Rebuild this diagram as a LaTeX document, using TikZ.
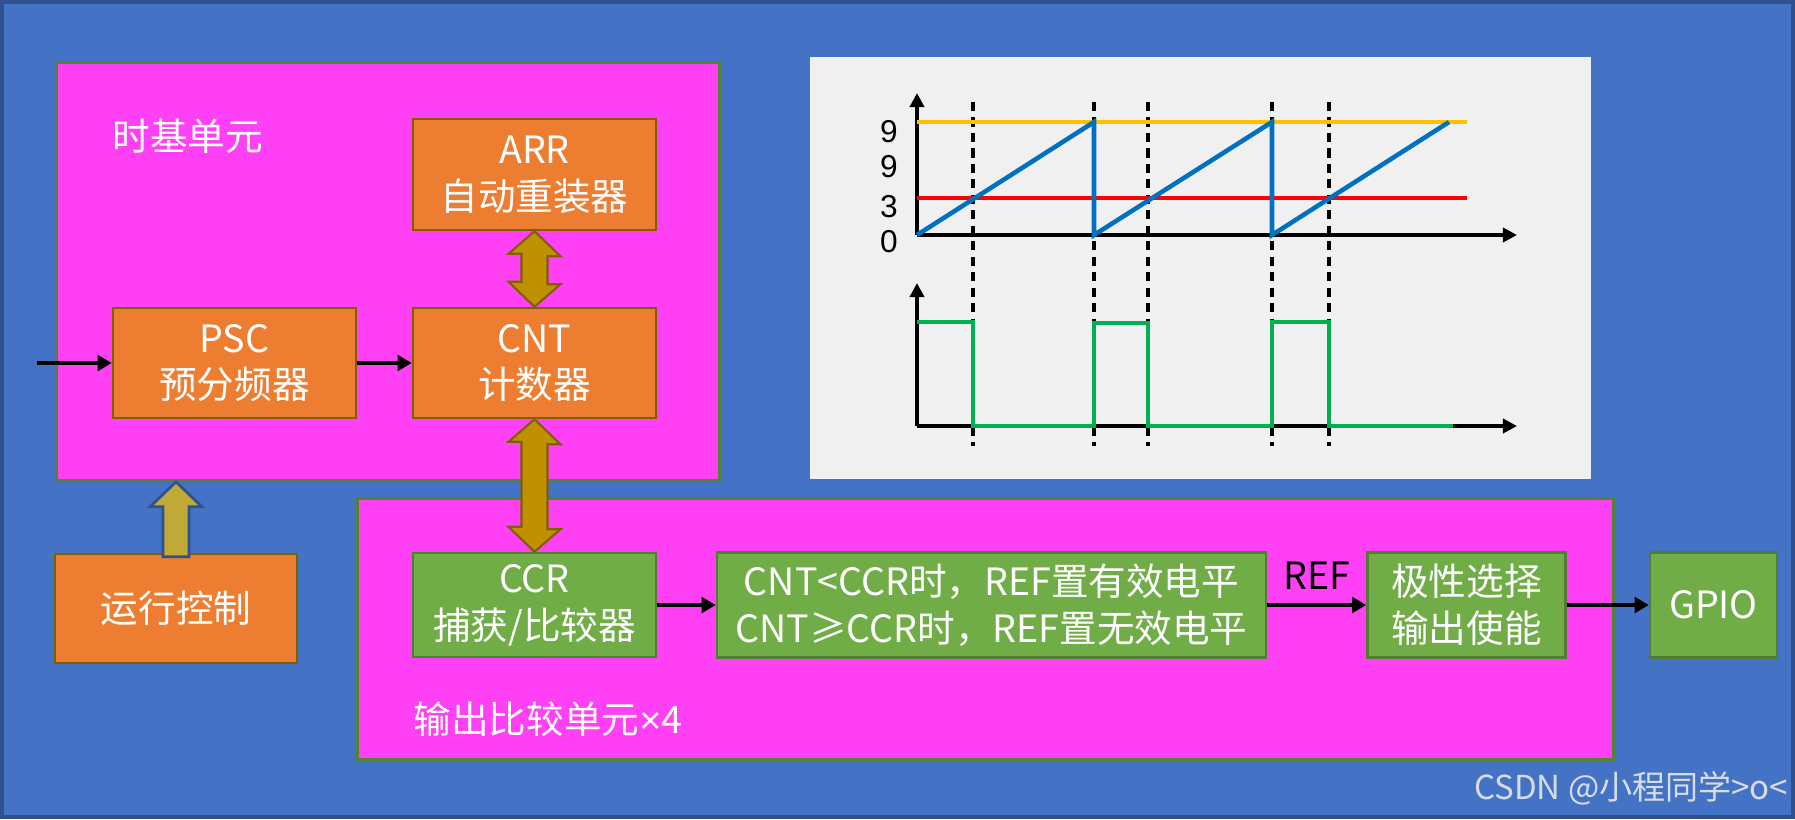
\documentclass[tikz,border=0pt]{standalone}
\usepackage{fontspec}
\setmainfont{Noto Sans CJK SC}
\newfontfamily\axisfont{Liberation Sans}
\usetikzlibrary{arrows.meta}

\definecolor{bgblue}{HTML}{4472C4}
\definecolor{bgedge}{HTML}{2F528F}
\definecolor{unitfill}{HTML}{FF40F5}
\definecolor{unitedge}{HTML}{548235}
\definecolor{orangefill}{HTML}{ED7D31}
\definecolor{orangeedge}{HTML}{7F6000}
\definecolor{greenfill}{HTML}{70AD47}
\definecolor{greenedge}{HTML}{507E32}
\definecolor{goldfill}{HTML}{BF9000}
\definecolor{goldedge}{HTML}{7F6000}
\definecolor{ctrlfill}{HTML}{C0AA37}
\definecolor{panelgray}{HTML}{F0F0F0}
\definecolor{arrline}{HTML}{FFC000}
\definecolor{ccrline}{HTML}{FF0000}
\definecolor{cntline}{HTML}{0070C0}
\definecolor{refline}{HTML}{00B050}
\definecolor{markgray}{HTML}{D6DCE5}

\newcommand\boxfont{\fontsize{10.7}{13.3}\selectfont}

\begin{document}
\begin{tikzpicture}[x=1cm,y=-1cm,
  unitbox/.style={draw=unitedge, line width=0.8pt, fill=unitfill, inner sep=0pt},
  orangebox/.style={draw=orangeedge, line width=0.7pt, fill=orangefill, text=white,
    font=\boxfont, align=center, inner sep=0pt, minimum width=2.43cm},
  greenbox/.style={draw=greenedge, line width=0.7pt, fill=greenfill, text=white,
    font=\boxfont, align=center, inner sep=0pt},
  sigarrow/.style={line width=1.2pt, -{Triangle[length=4pt,width=4.4pt]}},
  goldarrow/.style={draw=goldedge, line width=0.6pt, fill=goldfill, line join=miter},
  ctrlarrow/.style={draw=bgedge, line width=0.8pt, fill=ctrlfill, line join=miter},
  axisline/.style={line width=1.3pt, -{Triangle[length=4pt,width=4pt]}},
  wave/.style={line width=1.3pt},
  ticklabel/.style={font=\axisfont\fontsize{9}{10}\selectfont, inner sep=0pt}
]
\useasboundingbox (0,0) rectangle (17.95,8.19);
\draw[fill=bgblue, draw=bgedge, line width=1pt] (0.02,0.02) rectangle (17.93,8.17);

% time base unit
\node[unitbox, anchor=north west, minimum width=6.63cm, minimum height=4.18cm] (tb) at (0.55,0.61) {};
\node[text=white, font=\boxfont, anchor=west, inner sep=0pt] (tbname) at (1.12,1.36) {时基单元};
\node[orangebox, minimum height=1.11cm] (arr) at (5.345,1.745) {ARR\\自动重装器};
\node[orangebox, minimum height=1.10cm] (psc) at (2.345,3.63) {PSC\\预分频器};
\node[orangebox, minimum height=1.10cm] (cnt) at (5.345,3.63) {CNT\\计数器};
\coordinate (clkin) at (0.37,3.63);

% output compare unit
\node[unitbox, anchor=north west, minimum width=12.56cm, minimum height=2.61cm] (oc) at (3.56,4.97) {};
\node[text=white, font=\boxfont, anchor=west, inner sep=0pt] (ocname) at (4.13,7.19) {输出比较单元{\axisfont ×}4};
\node[greenbox, minimum width=2.43cm, minimum height=1.04cm] (ccr) at (5.345,6.05) {CCR\\捕获/比较器};
\node[greenbox, minimum width=5.49cm, minimum height=1.05cm] (cond) at (9.915,6.05)
  {CNT<CCR时，REF置有效电平\\CNT≥CCR时，REF置无效电平};
\node[greenbox, minimum width=1.98cm, minimum height=1.05cm] (pol) at (14.665,6.05) {极性选择\\输出使能};
\node[greenbox, minimum width=1.27cm, minimum height=1.05cm] (gpio) at (17.135,6.05) {GPIO};

% run control
\node[orangebox, minimum width=2.42cm, minimum height=1.09cm] (ctrl) at (1.76,6.085) {运行控制};

% connectors
\draw[sigarrow] (clkin) -- (psc.west);
\draw[sigarrow] (psc) -- (cnt);
\draw[sigarrow] (ccr) -- (cond);
\draw[sigarrow] (cond) -- node[above=0.5pt, font=\boxfont, text=black] (reflabel) {REF} (pol);
\draw[sigarrow] (pol) -- (gpio);

\draw[goldarrow] (arr.south) -- ++(0.26,0.25) -- ++(-0.13,0) -- ++(0,0.28) -- ++(0.13,0)
  -- (cnt.north) -- ++(-0.26,-0.25) -- ++(0.13,0) -- ++(0,-0.28) -- ++(-0.13,0) -- cycle;
\draw[goldarrow] (cnt.south) -- ++(0.26,0.25) -- ++(-0.13,0) -- ++(0,0.85) -- ++(0.13,0)
  -- (ccr.north) -- ++(-0.26,-0.25) -- ++(0.13,0) -- ++(0,-0.85) -- ++(-0.13,0) -- cycle;
\draw[ctrlarrow] (ctrl.north |- tb.south) -- ++(0.26,0.25) -- ++(-0.13,0) -- ++(0,0.5)
  -- ++(-0.26,0) -- ++(0,-0.5) -- ++(-0.13,0) -- cycle;

% timing chart
\fill[panelgray] (8.10,0.57) rectangle (15.91,4.79);
\foreach \x in {9.73,10.94,11.48,12.72,13.29}
  \draw[line width=0.9pt, dash pattern=on 2.6pt off 1.8pt] (\x,1.02) -- (\x,4.46);
\draw[axisline] (9.17,2.35) -- (9.17,0.93);
\draw[axisline] (9.17,2.35) -- (15.17,2.35);
\draw[axisline] (9.17,4.26) -- (9.17,2.83);
\draw[axisline] (9.17,4.26) -- (15.17,4.26);
\draw[wave, arrline] (9.17,1.22) -- (14.67,1.22);
\draw[wave, ccrline] (9.17,1.98) -- (14.67,1.98);
\draw[wave, cntline, line join=miter] (9.17,2.35) -- (10.94,1.22) -- (10.94,2.35) -- (12.72,1.22)
  -- (12.72,2.35) -- (14.49,1.22);
\draw[wave, refline] (9.17,3.22) -- (9.73,3.22) -- (9.73,4.26) -- (10.94,4.26) -- (10.94,3.23)
  -- (11.48,3.23) -- (11.48,4.26) -- (12.72,4.26) -- (12.72,3.22) -- (13.29,3.22)
  -- (13.29,4.26) -- (14.53,4.26);
\node[ticklabel] (tick9a) at (8.89,1.32) {9};
\node[ticklabel] (tick9b) at (8.89,1.67) {9};
\node[ticklabel] (tick3) at (8.89,2.07) {3};
\node[ticklabel] (tick0) at (8.89,2.42) {0};

% watermark
\node[text=markgray, font=\fontsize{9.4}{11}\selectfont, anchor=east, inner sep=0pt] (mark)
  at (17.89,7.88) {CSDN @小程同学>o<};
\end{tikzpicture}
\end{document}
